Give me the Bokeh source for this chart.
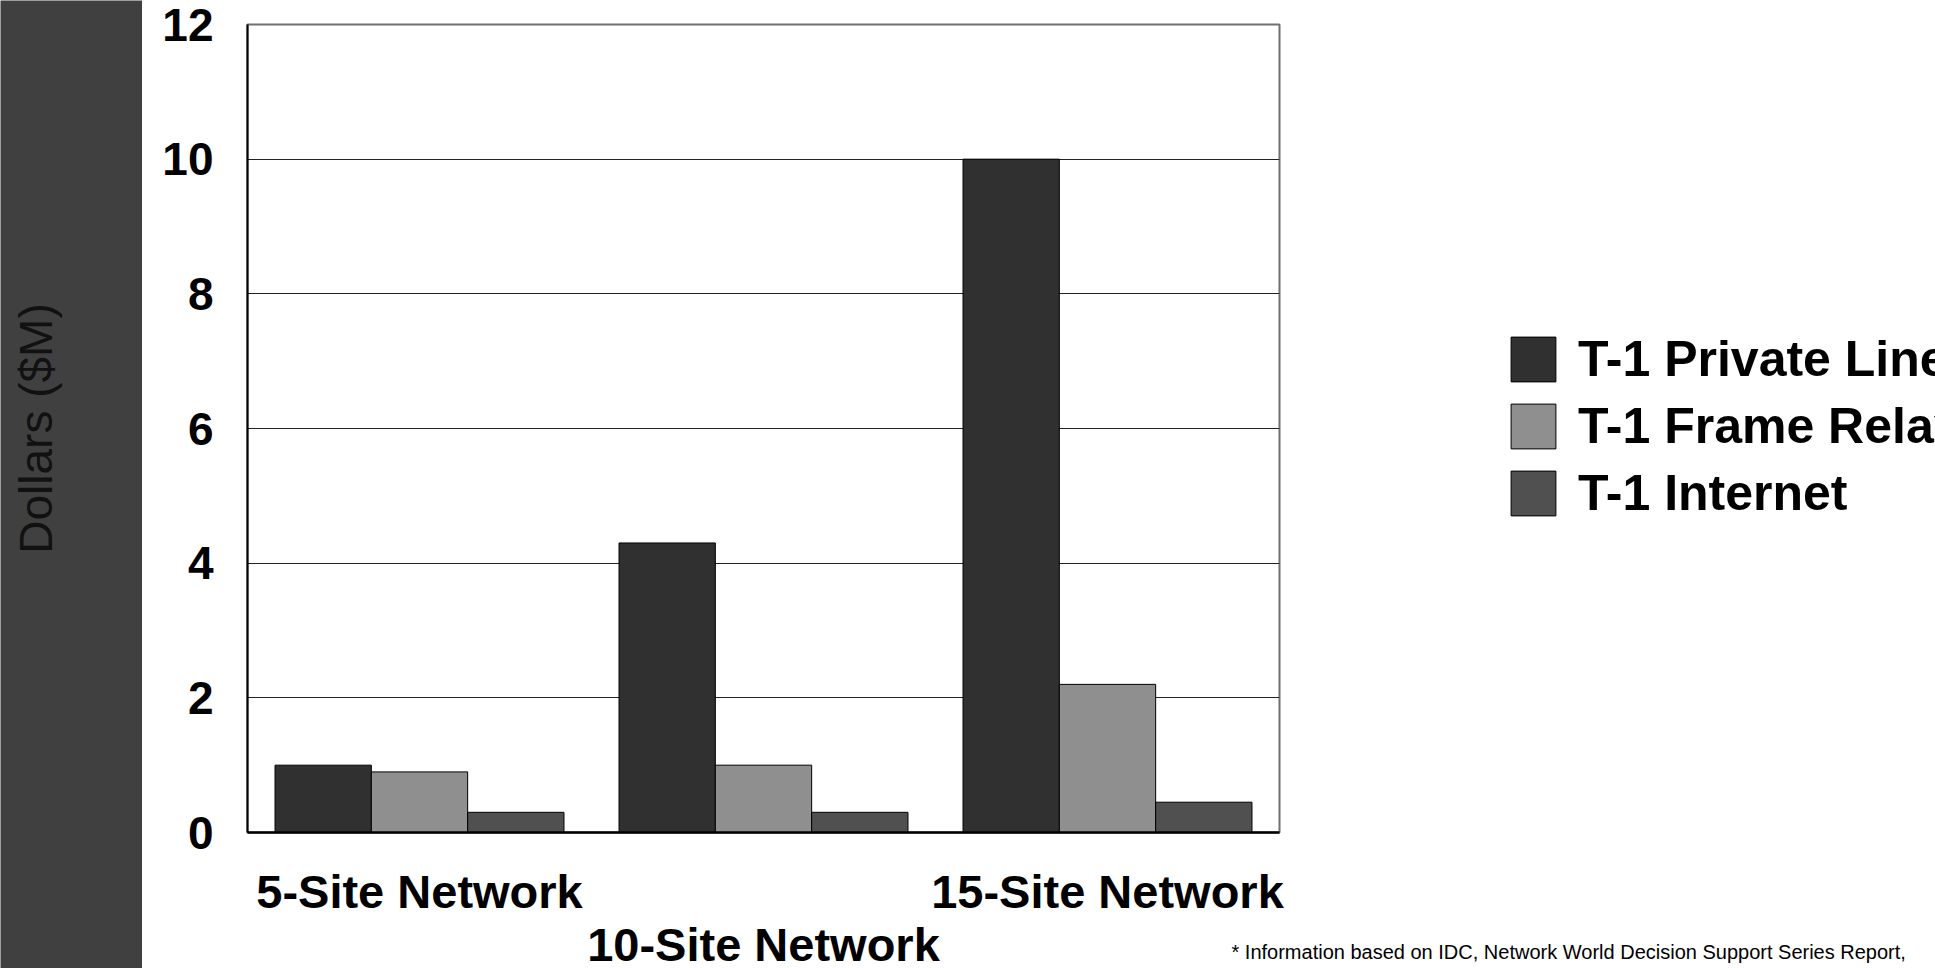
import numpy as np
from bokeh.plotting import figure
from bokeh.models import (ColumnDataSource, Range1d, LinearAxis, FixedTicker,
                          Legend, LegendItem, Label, Title)
from bokeh.transform import dodge
from bokeh.layouts import row
from bokeh.embed import file_html
from bokeh.resources import INLINE

# ---------------- data ----------------
categories = ["5-Site Network", "10-Site Network", "15-Site Network"]
series_names = ["T-1 Private Line", "T-1 Frame Relay", "T-1 Internet"]
private_line = [1.0, 4.3, 10.0]
frame_relay = [0.9, 1.0, 2.2]
internet = [0.3, 0.3, 0.45]
y_ticks = [0, 2, 4, 6, 8, 10, 12]
y_axis_title = "Dollars ($M)"
footnote = "* Information based on IDC, Network World Decision Support Series Report,"

FONT = "Liberation Sans"
H = 968

src = ColumnDataSource(dict(
    x=list(range(len(categories))),
    cat=categories,
    private=private_line,
    frame=frame_relay,
    internet=internet,
))

p = figure(frame_width=1032, frame_height=808,
           x_range=Range1d(-0.5, len(categories) - 0.5),
           y_range=Range1d(y_ticks[0], y_ticks[-1]),
           x_axis_type=None,
           output_backend="svg", toolbar_location=None,
           min_border_left=105, min_border_right=0,
           min_border_top=24, min_border_bottom=0)
p.background_fill_color = "white"
p.border_fill_color = "white"
p.outline_line_color = "#707070"
p.outline_line_width = 2

# y axis
p.yaxis.ticker = FixedTicker(ticks=y_ticks)
p.yaxis.major_label_text_font = FONT
p.yaxis.major_label_text_font_style = "bold"
p.yaxis.major_label_text_font_size = "46px"
p.yaxis.major_label_text_color = "black"
p.yaxis.axis_line_color = "black"
p.yaxis.axis_line_width = 2
p.yaxis.major_tick_in = 0
p.yaxis.major_tick_out = 0
p.yaxis.minor_tick_in = 0
p.yaxis.minor_tick_out = 0
p.yaxis.major_label_standoff = 34
p.ygrid.grid_line_color = "#222222"
p.ygrid.grid_line_width = 1

# bars
w = 0.28
fields = ["private", "frame", "internet"]
colors = ["#303030", "#8f8f8f", "#505050"]
offsets = [-w, 0.0, w]
renderers = []
for f, off, c in zip(fields, offsets, colors):
    r = p.vbar(x=dodge("x", off, range=p.x_range), top=f, width=w, source=src,
               fill_color=c, line_color="black", line_width=1)
    renderers.append(r)

# x axes (staggered category labels)
n = len(categories)
row1 = [i for i in range(n) if i % 2 == 0]
row2 = [i for i in range(n) if i % 2 == 1]

def make_axis(ticks, standoff, line):
    ax = LinearAxis(ticker=FixedTicker(ticks=ticks),
                    major_label_overrides={i: categories[i] for i in ticks})
    ax.major_label_text_font = FONT
    ax.major_label_text_font_style = "bold"
    ax.major_label_text_font_size = "47px"
    ax.major_label_text_color = "black"
    ax.major_tick_in = 0
    ax.major_tick_out = 0
    ax.minor_tick_in = 0
    ax.minor_tick_out = 0
    ax.major_label_standoff = standoff
    if line:
        ax.axis_line_color = "black"
        ax.axis_line_width = 2.5
    else:
        ax.axis_line_color = None
    return ax

p.add_layout(make_axis(row1, 32, True), "below")
p.add_layout(make_axis(row2, -3, False), "below")

# footnote
p.add_layout(Title(text=footnote, align="left", offset=984, standoff=-66,
                   vertical_align="top", text_font=FONT, text_font_style="normal",
                   text_font_size="20px", text_color="black"), "below")

# legend
legend = Legend(items=[LegendItem(label=nm, renderers=[r]) for nm, r in zip(series_names, renderers)],
                location=(226, 310), glyph_width=56, glyph_height=56,
                label_standoff=17, spacing=9, padding=0, margin=0,
                border_line_color=None, background_fill_alpha=0,
                label_text_font=FONT, label_text_font_style="bold",
                label_text_font_size="50px", label_text_color="black")
p.add_layout(legend, "right")

# left dark strip with axis title
left = figure(width=142, height=H, x_range=Range1d(0, 1), y_range=Range1d(0, 1),
              x_axis_type=None, y_axis_type=None,
              output_backend="svg", toolbar_location=None, min_border=0)
left.frame_align = False
left.background_fill_color = "#404040"
left.border_fill_color = "#404040"
left.outline_line_color = None
left.add_layout(Label(x=35, y=540, x_units="screen", y_units="screen", text=y_axis_title,
                      angle=np.pi / 2, text_align="center", text_baseline="middle",
                      text_font=FONT, text_font_size="46px", text_color="#111111"))

layout = row(left, p)
open("out.html", "w").write(file_html(layout, INLINE))
